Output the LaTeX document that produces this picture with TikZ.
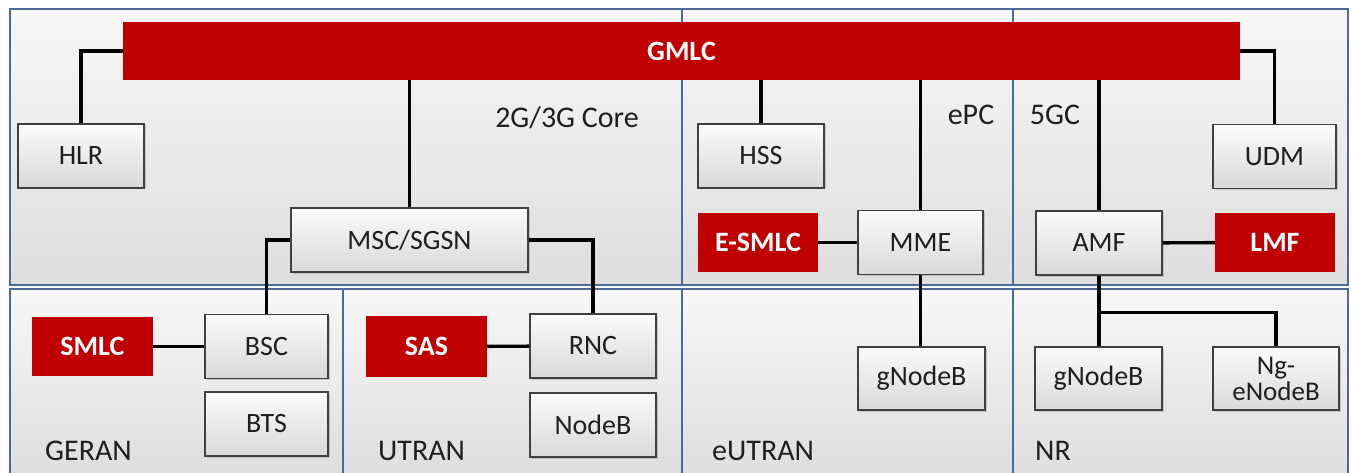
\documentclass[tikz,border=0pt]{standalone}
\usepackage{fontspec}
\setmainfont{Carlito}
\usetikzlibrary{positioning,calc,shadows}
\definecolor{gmlcred}{HTML}{C00000}
\definecolor{panelblue}{HTML}{4A6A9A}
\definecolor{textgray}{HTML}{1F1F1F}

\begin{document}
\begin{tikzpicture}[x=1pt, y=-1pt,
  panel/.style={draw=panelblue, line width=2.8pt, top color=gray!6, bottom color=gray!26},
  box/.style={draw=black!75, line width=1.8pt, top color=gray!3, bottom color=gray!30,
    minimum width=126pt, minimum height=64pt, inner sep=0pt, align=center,
    text=textgray, font=\fontsize{28}{28}\selectfont,
    drop shadow={shadow xshift=1.5pt, shadow yshift=-1.5pt, opacity=0.35}},
  redbox/.style={fill=gmlcred, minimum width=121pt, minimum height=59pt, inner sep=0pt,
    text=white, font=\bfseries\fontsize{28}{28}\selectfont},
  area/.style={inner sep=0pt, text=textgray, font=\fontsize{30}{30}\selectfont},
  link/.style={line width=3.4pt, black}]

  \useasboundingbox (0,0) rectangle (1352,473);

  % Panels
  \foreach \xa/\xb in {10/682, 682/1013, 1013/1348}
    \draw[panel] (\xa,9) rectangle (\xb,285);
  \foreach \xa/\xb in {10/343, 343/682, 682/1013, 1013/1348}
    \draw[panel] (\xa,289) rectangle (\xb,476);

  % Area labels
  \node[area] (core) at (567,118) {2G/3G Core};
  \node[area] (epc) at (971,115) {ePC};
  \node[area] (fivegc) at (1055,115) {5GC};
  \node[area, anchor=west] (geran) at (45,451) {GERAN};
  \node[area, anchor=west] (utran) at (378,451) {UTRAN};
  \node[area, anchor=west] (eutran) at (712,451) {eUTRAN};
  \node[area, anchor=west] (nr) at (1035,451) {NR};

  % GMLC
  \node[redbox, minimum width=1117pt, minimum height=58pt] (gmlc) at (681.5,51) {GMLC};

  % 2G/3G core and RAN
  \node[box] (hlr) at (81,156) {HLR};
  \node[box, minimum width=237pt] (msc) at (409.5,240) {MSC/SGSN};
  \node[box, minimum width=123pt] (bsc) at (266.5,346.5) {BSC};
  \node[box, minimum width=123pt] (bts) at (266.5,424) {BTS};
  \node[redbox] (smlc) at (92.5,346.5) {SMLC};
  \node[redbox, minimum height=61pt] (sas) at (426.5,346.5) {SAS};
  \node[box] (rnc) at (593,346) {RNC};
  \node[box] (nodeb) at (593,425) {NodeB};

  % ePC and eUTRAN
  \node[box] (hss) at (761,156) {HSS};
  \node[redbox, minimum width=120pt] (esmlc) at (758,242.5) {E-SMLC};
  \node[box, minimum width=125pt] (mme) at (920.5,242.5) {MME};
  \node[box, minimum width=127pt, minimum height=63pt] (gnbe) at (921.5,378.5) {gNodeB};

  % 5GC and NR
  \node[box, minimum width=123pt] (udm) at (1274.5,156.5) {UDM};
  \node[box] (amf) at (1099,243) {AMF};
  \node[redbox, minimum width=120pt] (lmf) at (1275,242.5) {LMF};
  \node[box, minimum width=127pt, minimum height=63pt] (gnbn) at (1098.5,378.5) {gNodeB};
  \node[box, minimum height=63pt, font=\fontsize{27}{26}\selectfont] (ngenb) at (1276,378.5) {Ng-\\eNodeB};

  % Links
  \draw[link] (gmlc.west) -| (hlr.north);
  \draw[link] (gmlc.east) -| (udm.north);
  \foreach \n in {msc, hss, mme, amf}
    \draw[link] (gmlc.south -| \n.north) -- (\n.north);
  \draw[link] (msc.west) -| (bsc.north);
  \draw[link] (msc.east) -| (rnc.north);
  \draw[link] (smlc) -- (bsc);
  \draw[link] (sas) -- (rnc);
  \draw[link] (esmlc) -- (mme);
  \draw[link] (amf) -- (lmf);
  \draw[link] (mme.south) -- (mme.south |- gnbe.north);
  \coordinate (split) at ($(amf.south)!0.52!(amf.south |- gnbn.north)$);
  \draw[link] (amf.south) -- (amf.south |- gnbn.north);
  \draw[link] (split) -| (ngenb.north);
\end{tikzpicture}
\end{document}
